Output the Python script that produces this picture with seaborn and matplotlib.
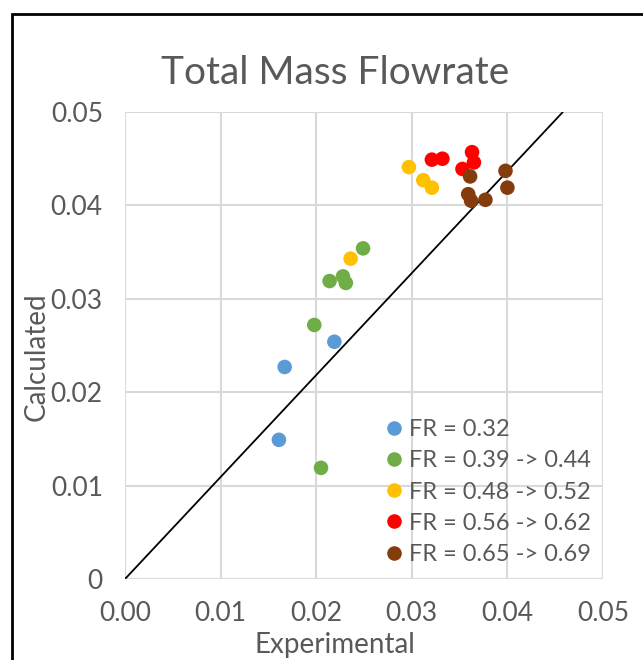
import pandas as pd
import matplotlib
matplotlib.use("Agg")
import matplotlib.pyplot as plt
import matplotlib.patches as patches
import seaborn as sns

groups = ["FR = 0.32", "FR = 0.39 -> 0.44", "FR = 0.48 -> 0.52",
          "FR = 0.56 -> 0.62", "FR = 0.65 -> 0.69"]
colors = ["#5B9BD5", "#70AD47", "#FFC000", "#FF0000", "#843C0C"]

blue_x = [0.0161, 0.0167, 0.0219]
blue_y = [0.0149, 0.0227, 0.0254]
green_x = [0.0205, 0.0198, 0.0214, 0.0228, 0.0231, 0.0249]
green_y = [0.0119, 0.0272, 0.0319, 0.0324, 0.0317, 0.0354]
yellow_x = [0.0236, 0.0297, 0.0312, 0.0321]
yellow_y = [0.0343, 0.0441, 0.0427, 0.0419]
red_x = [0.0321, 0.0332, 0.0363, 0.0365, 0.0353]
red_y = [0.0449, 0.0450, 0.0457, 0.0446, 0.0439]
brown_x = [0.0361, 0.0359, 0.0362, 0.0377, 0.0398, 0.0400]
brown_y = [0.0431, 0.0412, 0.0405, 0.0406, 0.0437, 0.0419]

line_x = [0.0, 0.0458]
line_y = [0.0, 0.05]

x_ticks = [0.00, 0.01, 0.02, 0.03, 0.04, 0.05]
x_labels = ["0.00", "0.01", "0.02", "0.03", "0.04", "0.05"]
y_ticks = [0.00, 0.01, 0.02, 0.03, 0.04, 0.05]
y_labels = ["0", "0.01", "0.02", "0.03", "0.04", "0.05"]

rows = []
for g, xs, ys in zip(groups, [blue_x, green_x, yellow_x, red_x, brown_x],
                     [blue_y, green_y, yellow_y, red_y, brown_y]):
    for a, b in zip(xs, ys):
        rows.append({"Experimental": a, "Calculated": b, "group": g})
df = pd.DataFrame(rows)

sns.set_style("white")
plt.rcParams["font.family"] = ["Lato", "DejaVu Sans"]
txt = "#595959"

fig = plt.figure(figsize=(6.43, 6.6), dpi=100)
ax = fig.add_axes([125 / 643, 81 / 660, 478 / 643, 467 / 660])

ax.plot(line_x, line_y, color="black", linewidth=1.3, zorder=2)
sns.scatterplot(data=df, x="Experimental", y="Calculated", hue="group",
                hue_order=groups, palette=colors, s=110, edgecolor="none",
                ax=ax, zorder=3, clip_on=False)

ax.set_xlim(0, 0.05)
ax.set_ylim(0, 0.05)
ax.set_xticks(x_ticks)
ax.set_xticklabels(x_labels)
ax.set_yticks(y_ticks)
ax.set_yticklabels(y_labels)
ax.tick_params(length=0, labelsize=19, labelcolor=txt)
ax.tick_params(axis="x", pad=16)
ax.tick_params(axis="y", pad=16)
ax.grid(True, color="#D9D9D9", linewidth=1.5, zorder=0)
ax.set_axisbelow(True)
for s in ax.spines.values():
    s.set_visible(False)

ax.set_xlabel("Experimental", fontsize=20, color=txt)
ax.set_ylabel("Calculated", fontsize=20, color=txt)
ax.xaxis.set_label_coords((335 - 125) / 478, (579 - 645) / 467)
ax.yaxis.set_label_coords((37 - 125) / 478, (579 - 357) / 467)
ax.xaxis.label.set_va("center")
ax.yaxis.label.set_va("center")
ax.set_title("Total Mass Flowrate", fontsize=28, color=txt, pad=20,
             x=(335 - 125) / 478)

leg = ax.legend(loc="lower left", bbox_to_anchor=((375 - 125) / 478, 0.01),
                frameon=False, fontsize=17, labelcolor=txt,
                handlelength=0.8, handletextpad=0.25, labelspacing=0.43,
                borderaxespad=0.0, markerscale=1.0)

fig.patches.append(patches.Rectangle((12 / 643, -0.1), 1.2, (646 / 660) + 0.1,
                                     transform=fig.transFigure, fill=False,
                                     edgecolor="black", linewidth=2))

fig.savefig("out.png", dpi=100)
